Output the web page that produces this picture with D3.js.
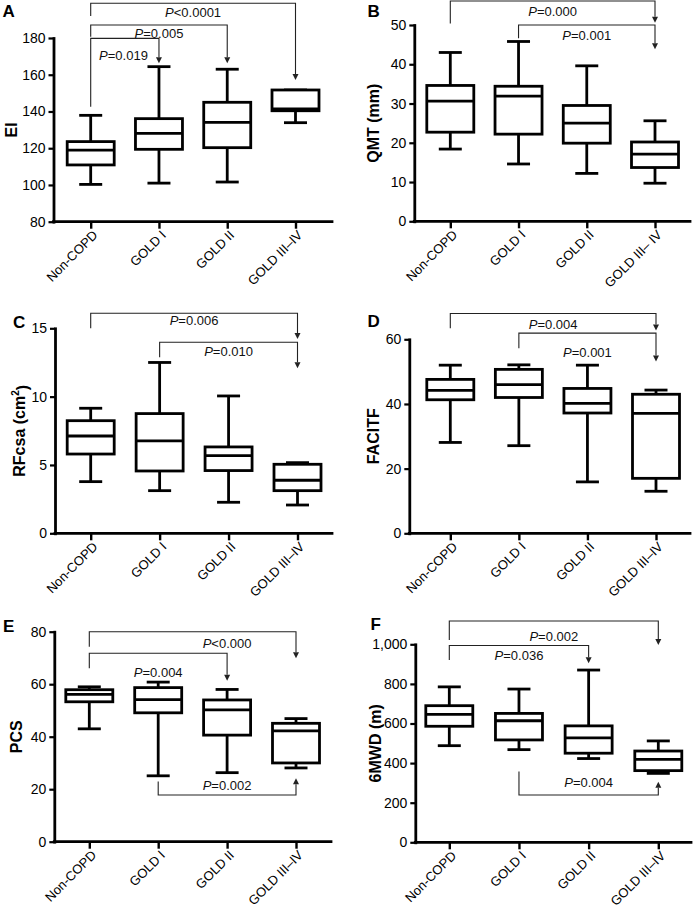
<!DOCTYPE html>
<html><head><meta charset="utf-8">
<script src="https://cdn.jsdelivr.net/npm/d3@7"></script>
<style>
body{margin:0;background:#fff;}
svg{display:block;font-family:"Liberation Sans",Arial,Helvetica,sans-serif;}
</style></head><body>
<svg id="chart" width="693" height="910"></svg>
<script>
// ---------- DATA ----------
const categories  = ["Non-COPD", "GOLD I", "GOLD II", "GOLD III–IV"];
const categoriesB = ["Non-COPD", "GOLD I", "GOLD II", "GOLD III– IV"];

// A – EI
const eiMin = [100.3, 101.0, 101.6, 133.9];
const eiQ1  = [110.9, 119.4, 120.3, 140.4];
const eiMed = [119.0, 128.1, 134.1, 141.4];
const eiQ3  = [123.6, 136.1, 145.0, 151.7];
const eiMax = [137.9, 164.4, 163.0, 151.7];
const eiTicks = [80, 100, 120, 140, 160, 180];
const eiPvalues = [
  {from: 0, to: 3, line: 198.9, leg: 192.0, tip: 157.1, op: "<", p: "0.0001", lx: 1.5, ly: 191.3},
  {from: 0, to: 2, line: 187.1, leg: 180.7, tip: 166.2, op: "=", p: "0.005",  lx: 1.0, ly: 180.2},
  {from: 0, to: 1, line: 179.8, leg: 142.6, tip: 166.2, op: "=", p: "0.019",  lx: 0.48, ly: 168.0}
];

// B – QMT
const qmtMin = [18.4, 14.6, 12.2, 9.7];
const qmtQ1  = [22.7, 22.2, 19.9, 13.7];
const qmtMed = [30.6, 31.9, 25.0, 17.1];
const qmtQ3  = [34.6, 34.4, 29.5, 20.2];
const qmtMax = [43.0, 45.8, 39.6, 25.6];
const qmtTicks = [0, 10, 20, 30, 40, 50];
const qmtPvalues = [
  {from: 0, to: 3, line: 56.1, leg: 50.4, tip: 50.6, op: "=", p: "0.000", lx: 1.5, ly: 52.2},
  {from: 1, to: 3, line: 50.0, leg: 46.6, tip: 43.8, op: "=", p: "0.001", lx: 2.0, ly: 46.1}
];

// C – RFcsa
const rfMin = [3.78, 3.12, 2.27, 2.07];
const rfQ1  = [5.80, 4.56, 4.59, 3.12];
const rfMed = [7.12, 6.76, 5.68, 3.88];
const rfQ3  = [8.24, 8.76, 6.32, 5.05];
const rfMax = [9.15, 12.5, 10.05, 5.17];
const rfTicks = [0, 5, 10, 15];
const rfPvalues = [
  {from: 0, to: 3, line: 16.1, leg: 15.0, tip: 14.22, op: "=", p: "0.006", lx: 1.5, ly: 15.24},
  {from: 1, to: 3, line: 13.98, leg: 12.88, tip: 12.07, op: "=", p: "0.010", lx: 2.0, ly: 12.97}
];

// D – FACITF
const faMin = [28.1, 27.1, 15.9, 13.0];
const faQ1  = [41.3, 42.0, 37.2, 17.0];
const faMed = [44.2, 46.0, 40.2, 37.1];
const faQ3  = [47.6, 50.7, 44.8, 43.0];
const faMax = [52.0, 52.1, 52.0, 44.3];
const faTicks = [0, 20, 40, 60];
const faPvalues = [
  {from: 0, to: 3, line: 68.0, leg: 63.4, tip: 62.7, op: "=", p: "0.004", lx: 1.5, ly: 63.1},
  {from: 1, to: 3, line: 61.9, leg: 57.2, tip: 53.1, op: "=", p: "0.001", lx: 2.0, ly: 54.6}
];

// E – PCS
const pcsMin = [43.0, 25.1, 26.3, 28.1];
const pcsQ1  = [53.3, 49.1, 40.6, 30.0];
const pcsMed = [56.1, 54.1, 50.2, 42.2];
const pcsQ3  = [57.9, 58.7, 54.0, 45.1];
const pcsMax = [59.0, 60.8, 58.0, 46.9];
const pcsTicks = [0, 20, 40, 60, 80];
const pcsPvalues = [
  {from: 0, to: 3, line: 80.0, leg: 74.3, tip: 69.9, op: "<", p: "0.000", lx: 2.0, ly: 73.8},
  {from: 0, to: 2, line: 71.8, leg: 66.1, tip: 61.3, op: "=", p: "0.004", lx: 1.0, ly: 62.9},
  {from: 1, to: 3, line: 17.8, leg: 22.9, tip: 24.2, op: "=", p: "0.002", lx: 2.0, ly: 19.7}
];

// F – 6MWD
const mwdMin = [488, 468, 423, 348];
const mwdQ1  = [586, 517, 450, 362];
const mwdMed = [646, 614, 527, 419];
const mwdQ3  = [690, 651, 588, 461];
const mwdMax = [785, 774, 870, 512];
const mwdTicks = [0, 200, 400, 600, 800, 1000];
const mwdPvalues = [
  {from: 0, to: 3, line: 1118, leg: 1022, tip: 996, op: "=", p: "0.002", lx: 1.5, ly: 1018},
  {from: 0, to: 2, line: 994,  leg: 921,  tip: 904, op: "=", p: "0.036", lx: 1.0, ly: 921},
  {from: 1, to: 3, line: 239,  leg: 357,  tip: 306, op: "=", p: "0.004", lx: 2.0, ly: 281}
];

// ---------- LAYOUT ----------
const panels = [
  {letter: "A", title: ["EI"], cats: categories, min: eiMin, q1: eiQ1, med: eiMed, q3: eiQ3, max: eiMax,
   ticks: eiTicks, brackets: eiPvalues, domain: [80, 180],
   axisX: 53.5, axisEnd: 332, top: 38, bottom: 221.7, catRange: [90.7, 295.5],
   letterPos: [2.5, 16.7], titleX: 17},
  {letter: "B", title: ["QMT (mm)"], cats: categoriesB, min: qmtMin, q1: qmtQ1, med: qmtMed, q3: qmtQ3, max: qmtMax,
   ticks: qmtTicks, brackets: qmtPvalues, domain: [0, 50],
   axisX: 414.3, axisEnd: 690, top: 25, bottom: 221.3, catRange: [450.3, 655],
   letterPos: [367.5, 16.7], titleX: 378.5},
  {letter: "C", title: ["RFcsa (cm", "2", ")"], cats: categories, min: rfMin, q1: rfQ1, med: rfMed, q3: rfQ3, max: rfMax,
   ticks: rfTicks, brackets: rfPvalues, domain: [0, 15],
   axisX: 55, axisEnd: 332, top: 328.3, bottom: 533.3, catRange: [90.7, 297.5],
   letterPos: [13, 328.3], titleX: 24.5},
  {letter: "D", title: ["FACITF"], cats: categories, min: faMin, q1: faQ1, med: faMed, q3: faQ3, max: faMax,
   ticks: faTicks, brackets: faPvalues, domain: [0, 60],
   axisX: 409.3, axisEnd: 690, top: 339.3, bottom: 533.3, catRange: [450.3, 656],
   letterPos: [367.5, 326.7], titleX: 379},
  {letter: "E", title: ["PCS"], cats: categories, min: pcsMin, q1: pcsQ1, med: pcsMed, q3: pcsQ3, max: pcsMax,
   ticks: pcsTicks, brackets: pcsPvalues, domain: [0, 80],
   axisX: 54.3, axisEnd: 331, top: 631.7, bottom: 841.7, catRange: [89.3, 296],
   letterPos: [3, 631.7], titleX: 21.5},
  {letter: "F", title: ["6MWD (m)"], cats: categories, min: mwdMin, q1: mwdQ1, med: mwdMed, q3: mwdQ3, max: mwdMax,
   ticks: mwdTicks, brackets: mwdPvalues, domain: [0, 1000], fmt: d3.format(","),
   axisX: 415.3, axisEnd: 691, top: 644.3, bottom: 842.3, catRange: [449.3, 658.3],
   letterPos: [370.5, 630], titleX: 381}
];

const svg = d3.select("#chart");
const INK = "#000";
const LW = 2.8;
const BOX_W = 47, CAP_W = 23;

panels.forEach(P => {
  const g = svg.append("g");
  const x = d3.scalePoint().domain(P.cats).range(P.catRange);
  const xi = d3.scaleLinear().domain([0, P.cats.length - 1]).range(P.catRange);
  const y = d3.scaleLinear().domain(P.domain).range([P.bottom, P.top]);

  // y axis
  const ya = g.append("g").attr("transform", `translate(${P.axisX},0)`)
    .call(d3.axisLeft(y).tickValues(P.ticks).tickSize(5).tickSizeOuter(0).tickPadding(3)
      .tickFormat(P.fmt || d3.format("d")));
  ya.select(".domain").attr("stroke", INK).attr("stroke-width", LW).attr("stroke-linecap", "square");
  ya.selectAll(".tick line").attr("stroke", INK).attr("stroke-width", 2.2);
  ya.selectAll(".tick text").attr("font-size", 14).attr("fill", INK)
    .attr("font-family", "'Liberation Sans',Arial,sans-serif");

  // x axis
  g.append("line").attr("x1", P.axisX).attr("x2", P.axisEnd)
    .attr("y1", P.bottom).attr("y2", P.bottom)
    .attr("stroke", INK).attr("stroke-width", LW).attr("stroke-linecap", "square");
  const xa = g.append("g").attr("transform", `translate(0,${P.bottom})`)
    .call(d3.axisBottom(x).tickSize(7).tickSizeOuter(0));
  xa.select(".domain").remove();
  xa.selectAll(".tick line").attr("stroke", INK).attr("stroke-width", 2.4);
  xa.selectAll(".tick text")
    .attr("font-size", 13).attr("fill", INK)
    .attr("font-family", "'Liberation Sans',Arial,sans-serif")
    .attr("text-anchor", "end")
    .attr("transform", "translate(4,11) rotate(-45)")
    .attr("x", 0).attr("y", 0).attr("dy", "0.35em");

  // boxes
  P.cats.forEach((c, i) => {
    const cx = x(c);
    const bg = g.append("g").attr("stroke", INK).attr("stroke-width", LW).attr("fill", "none");
    bg.append("line").attr("x1", cx).attr("x2", cx).attr("y1", y(P.min[i])).attr("y2", y(P.max[i]));
    bg.append("line").attr("x1", cx - CAP_W / 2).attr("x2", cx + CAP_W / 2)
      .attr("y1", y(P.min[i])).attr("y2", y(P.min[i]));
    bg.append("line").attr("x1", cx - CAP_W / 2).attr("x2", cx + CAP_W / 2)
      .attr("y1", y(P.max[i])).attr("y2", y(P.max[i]));
    bg.append("rect").attr("x", cx - BOX_W / 2).attr("width", BOX_W)
      .attr("y", y(P.q3[i])).attr("height", y(P.q1[i]) - y(P.q3[i]))
      .attr("fill", "#fff");
    bg.append("line").attr("x1", cx - BOX_W / 2).attr("x2", cx + BOX_W / 2)
      .attr("y1", y(P.med[i])).attr("y2", y(P.med[i]));
  });

  // significance brackets
  P.brackets.forEach(b => {
    const x1 = xi(b.from), x2 = xi(b.to);
    const yl = y(b.line), yleg = y(b.leg), ytip = y(b.tip);
    const dir = ytip > yl ? 1 : -1;
    const ah = 6, aw = 3;
    g.append("path")
      .attr("d", `M${x1},${yleg}V${yl}H${x2}V${ytip - dir * ah}`)
      .attr("fill", "none").attr("stroke", "#222").attr("stroke-width", 1.1);
    g.append("path")
      .attr("d", `M${x2 - aw},${ytip - dir * ah}L${x2 + aw},${ytip - dir * ah}L${x2},${ytip}Z`)
      .attr("fill", "#222");
    const t = g.append("text").attr("x", xi(b.lx)).attr("y", y(b.ly))
      .attr("text-anchor", "middle").attr("font-size", 13).attr("fill", "#111");
    t.append("tspan").attr("font-style", "italic").text("P");
    t.append("tspan").text(b.op + b.p);
  });

  // y-axis title
  const cy = (P.top + P.bottom) / 2;
  const tt = g.append("text").attr("transform", `translate(${P.titleX},${cy}) rotate(-90)`)
    .attr("text-anchor", "middle").attr("font-weight", "bold").attr("font-size", 16).attr("fill", INK);
  tt.append("tspan").text(P.title[0]);
  if (P.title.length > 1) {
    tt.append("tspan").attr("font-size", 10).attr("dy", "-0.55em").text(P.title[1]);
    tt.append("tspan").attr("dy", "0.55em").text(P.title[2]);
  }

  // panel letter
  g.append("text").attr("x", P.letterPos[0]).attr("y", P.letterPos[1])
    .attr("font-weight", "bold").attr("font-size", 17).attr("fill", INK).text(P.letter);
});
</script>
</body></html>
